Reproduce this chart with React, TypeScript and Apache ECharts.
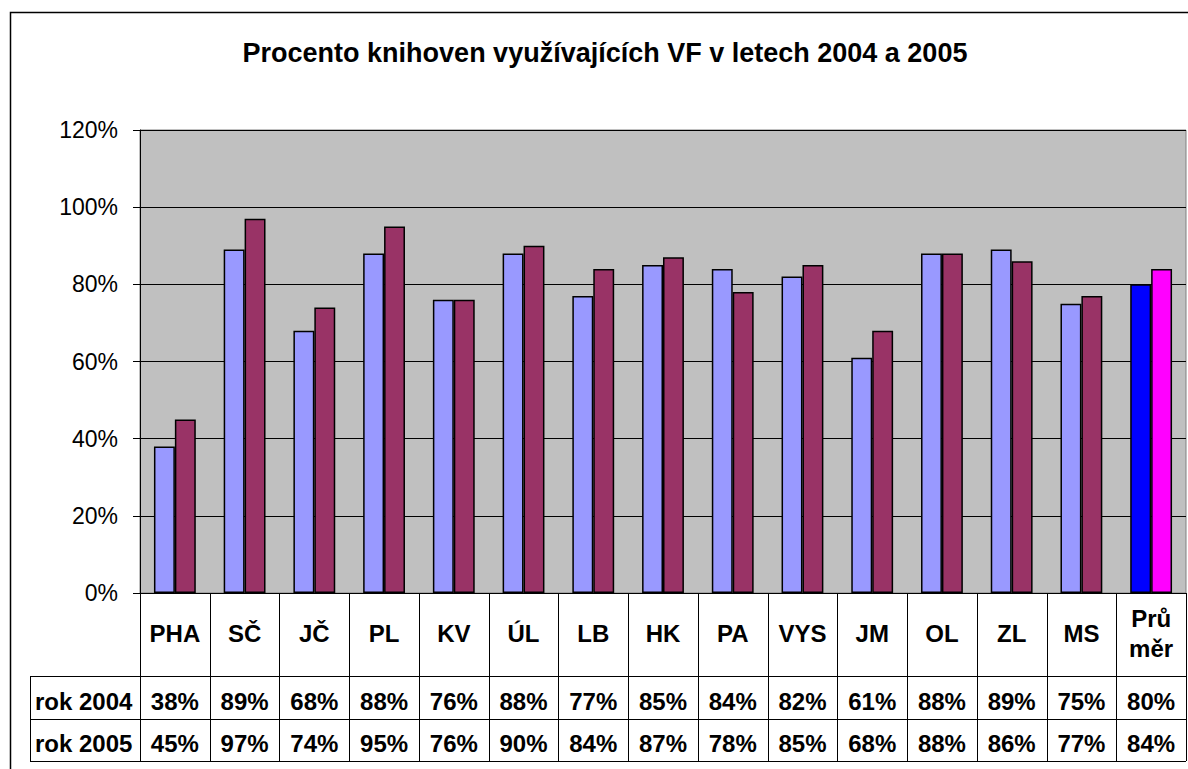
import React, { useEffect, useRef } from "react";
import * as echarts from "echarts";

const title = "Procento knihoven využívajících VF v letech 2004 a 2005";
const categories = ["PHA", "SČ", "JČ", "PL", "KV", "ÚL", "LB", "HK", "PA", "VYS", "JM", "OL", "ZL", "MS", "Průměr"];
const categoryLabels = ["PHA", "SČ", "JČ", "PL", "KV", "ÚL", "LB", "HK", "PA", "VYS", "JM", "OL", "ZL", "MS", "Prů\nměr"];
const seriesNames = ["rok 2004", "rok 2005"];
const values2004 = [38, 89, 68, 88, 76, 88, 77, 85, 84, 82, 61, 88, 89, 75, 80];
const values2005 = [45, 97, 74, 95, 76, 90, 84, 87, 78, 85, 68, 88, 86, 77, 84];
const seriesColors = ["#9999FF", "#993366"];
const averageColors = ["#0000FF", "#FF00FF"];

const FONT = "'Liberation Sans', Arial, Helvetica, sans-serif";

export default function App() {
  const ref = useRef<HTMLDivElement>(null);

  useEffect(() => {
    if (!ref.current) return;
    const chart = echarts.init(ref.current, undefined, { renderer: "svg" });

    const mkData = (vals: number[], s: number) =>
      vals.map((v, i) =>
        i === vals.length - 1
          ? { value: v, itemStyle: { color: averageColors[s] } }
          : { value: v }
      );

    chart.setOption({
      animation: false,
      backgroundColor: "#ffffff",
      grid: {
        left: 140,
        top: 130,
        right: 2,
        bottom: 176,
        show: true,
        backgroundColor: "#C0C0C0",
        borderColor: "#808080",
        borderWidth: 1,
      },
      xAxis: {
        type: "category",
        data: categories,
        axisLine: { show: true, lineStyle: { color: "#000", width: 1 } },
        axisTick: { show: false },
        axisLabel: { show: false },
        splitLine: { show: false },
      },
      yAxis: {
        type: "value",
        min: 0,
        max: 120,
        interval: 20,
        axisLine: { show: true, lineStyle: { color: "#000", width: 1 } },
        axisTick: { show: true, length: 7, lineStyle: { color: "#000" } },
        axisLabel: {
          formatter: "{value}%",
          color: "#000",
          fontSize: 23,
          fontFamily: FONT,
          margin: 22,
        },
        splitLine: { show: true, lineStyle: { color: "#000", width: 1 } },
      },
      series: [
        {
          name: seriesNames[0],
          type: "bar",
          data: mkData(values2004, 0),
          barGap: "0%",
          barCategoryGap: "40%",
          itemStyle: { color: seriesColors[0], borderColor: "#000", borderWidth: 1.5 },
        },
        {
          name: seriesNames[1],
          type: "bar",
          data: mkData(values2005, 1),
          barGap: "0%",
          barCategoryGap: "40%",
          itemStyle: { color: seriesColors[1], borderColor: "#000", borderWidth: 1.5 },
        },
      ],
    });

    // Build data table from the axis positions
    const centers = categories.map((c) => chart.convertToPixel({ xAxisIndex: 0 }, c) as number);
    const colW = centers[1] - centers[0];
    const x0 = centers[0] - colW / 2;
    const x1 = centers[centers.length - 1] + colW / 2;
    const yZero = chart.convertToPixel({ yAxisIndex: 0 }, 0) as number;
    const rowTop = 676;
    const rowMid = 719;
    const rowBot = 761;
    const leftX = 30;
    const lineStyle = { stroke: "#000", lineWidth: 1 };

    const elems: any[] = [];
    // outer chart border
    elems.push({
      type: "rect",
      shape: { x: 10.5, y: 12.5, width: 1300, height: 900 },
      style: { fill: "none", stroke: "#000", lineWidth: 1.5 },
      silent: true,
    });
    elems.push({
      type: "text",
      x: 605,
      y: 53,
      style: {
        text: title,
        fill: "#000",
        font: `bold 27px ${FONT}`,
        textAlign: "center",
        textVerticalAlign: "middle",
      },
    });
    // horizontal lines
    [rowTop, rowMid, rowBot].forEach((y) =>
      elems.push({ type: "line", shape: { x1: leftX, y1: y + 0.5, x2: x1, y2: y + 0.5 }, style: lineStyle })
    );
    elems.push({ type: "line", shape: { x1: leftX + 0.5, y1: rowTop, x2: leftX + 0.5, y2: rowBot }, style: lineStyle });
    for (let i = 0; i <= categories.length; i++) {
      const x = Math.round(x0 + i * colW) + 0.5;
      elems.push({ type: "line", shape: { x1: x, y1: yZero, x2: x, y2: rowBot }, style: lineStyle });
    }
    // row headers
    seriesNames.forEach((n, r) => {
      elems.push({
        type: "text",
        x: 35,
        y: r === 0 ? 701 : 743,
        style: { text: n, fill: "#000", font: `bold 24px ${FONT}`, textAlign: "left", textVerticalAlign: "middle" },
      });
    });
    categories.forEach((c, i) => {
      const cx = centers[i];
      elems.push({
        type: "text",
        x: cx,
        y: 633,
        style: {
          text: categoryLabels[i],
          fill: "#000",
          font: `bold 24px ${FONT}`,
          lineHeight: 30,
          textAlign: "center",
          textVerticalAlign: "middle",
        },
      });
      elems.push({
        type: "text",
        x: cx,
        y: 701,
        style: { text: values2004[i] + "%", fill: "#000", font: `bold 24px ${FONT}`, textAlign: "center", textVerticalAlign: "middle" },
      });
      elems.push({
        type: "text",
        x: cx,
        y: 743,
        style: { text: values2005[i] + "%", fill: "#000", font: `bold 24px ${FONT}`, textAlign: "center", textVerticalAlign: "middle" },
      });
    });

    chart.setOption({ graphic: { elements: elems } });

    return () => chart.dispose();
  }, []);

  return (
    <div
      ref={ref}
      style={{ position: "absolute", left: 0, top: 0, width: 1188, height: 769 }}
    />
  );
}
